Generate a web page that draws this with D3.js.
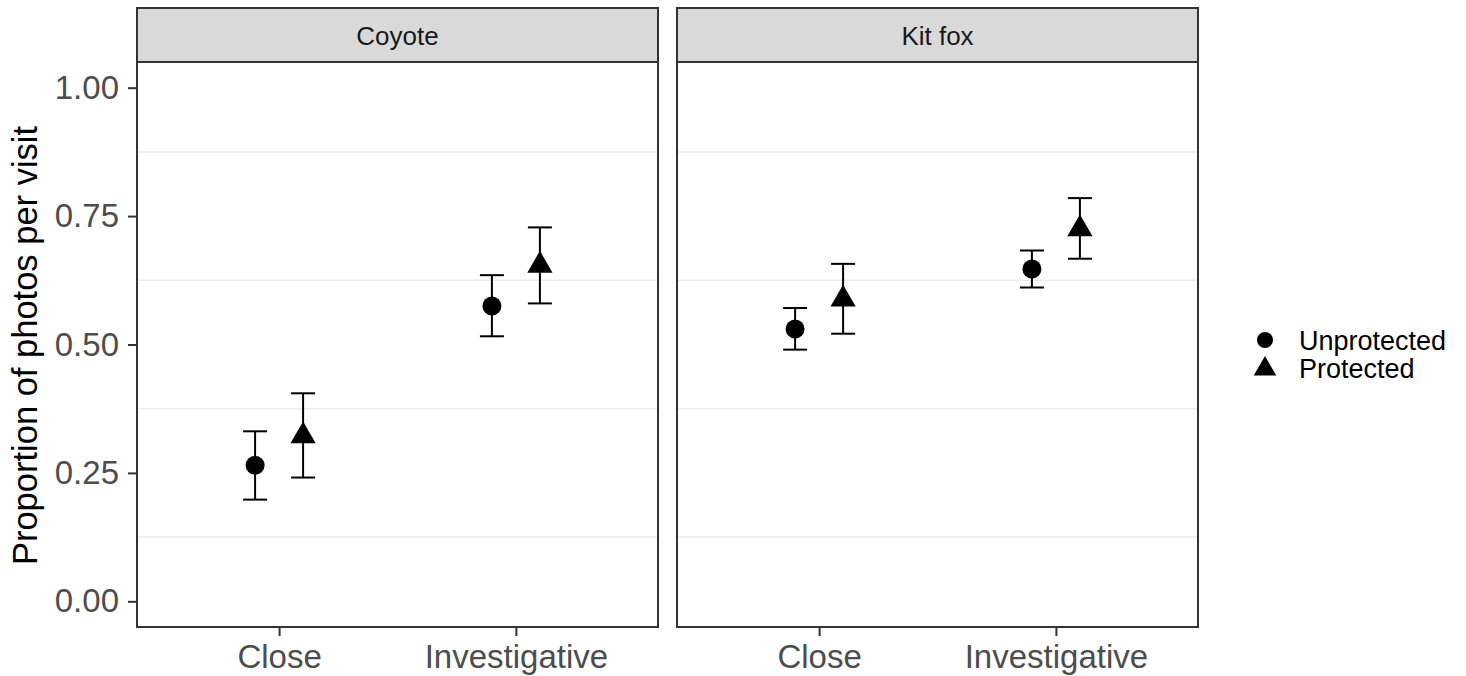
<!DOCTYPE html>
<html>
<head>
<meta charset="utf-8">
<script src="https://cdn.jsdelivr.net/npm/d3@7"></script>
<style>
  html, body { margin: 0; padding: 0; background: #ffffff; }
  svg { display: block; font-family: "Liberation Sans", Arial, sans-serif; }
</style>
</head>
<body>
<svg id="chart" width="1466" height="676"></svg>
<script>
// ---- data ----
const panels = ["Coyote", "Kit fox"];
const categories = ["Close", "Investigative"];
const groups = ["Unprotected", "Protected"];
const yTicks = [0, 0.25, 0.5, 0.75, 1.0];
const yMinor = [0.125, 0.375, 0.625, 0.875];

// estimates per panel, order: [Close-Unprot, Close-Prot, Inv-Unprot, Inv-Prot]
const coyoteMean  = [0.265, 0.322, 0.575, 0.654];
const coyoteLower = [0.198, 0.241, 0.516, 0.580];
const coyoteUpper = [0.331, 0.405, 0.635, 0.728];
const kitfoxMean  = [0.530, 0.588, 0.647, 0.725];
const kitfoxLower = [0.490, 0.521, 0.611, 0.667];
const kitfoxUpper = [0.571, 0.657, 0.683, 0.785];

const rows = [];
[[coyoteMean, coyoteLower, coyoteUpper], [kitfoxMean, kitfoxLower, kitfoxUpper]].forEach((arr, pi) => {
  let k = 0;
  categories.forEach(cat => {
    groups.forEach(g => {
      rows.push({panel: panels[pi], cat, group: g, mean: arr[0][k], lo: arr[1][k], hi: arr[2][k]});
      k++;
    });
  });
});

// ---- layout ----
const svg = d3.select("#chart");
const panelLefts = [137, 677];
const panelW = 521;
const stripTop = 8, stripBottom = 62, panelBottom = 627;
const border = "#333333";

const y = d3.scaleLinear().domain([-0.05, 1.05]).range([panelBottom, stripBottom]);
const x = d3.scalePoint().domain(categories).range([0, panelW]).padding(0.6); // ggplot 0.6 expansion
const dodge = d3.scalePoint().domain(groups).range([-24, 24]);
const capHalf = 12;

const circleSym = d3.symbol(d3.symbolCircle, Math.PI * 9.5 * 9.5);
const triSym = d3.symbol(d3.symbolTriangle, 275);
const shapeOf = g => g === "Unprotected" ? circleSym() : triSym();

panels.forEach((p, pi) => {
  const g = svg.append("g").attr("transform", `translate(${panelLefts[pi]},0)`);
  // panel background
  g.append("rect").attr("x", 0).attr("y", stripBottom).attr("width", panelW)
    .attr("height", panelBottom - stripBottom).attr("fill", "#ffffff");
  // minor gridlines
  g.selectAll(".minor").data(yMinor).enter().append("line")
    .attr("x1", 0).attr("x2", panelW)
    .attr("y1", d => y(d)).attr("y2", d => y(d))
    .attr("stroke", "#ebebeb").attr("stroke-width", 1.5);

  const data = rows.filter(r => r.panel === p);
  const pts = g.selectAll(".pt").data(data).enter().append("g")
    .attr("transform", d => `translate(${x(d.cat) + dodge(d.group)},0)`);
  pts.append("line").attr("x1", 0).attr("x2", 0)
    .attr("y1", d => y(d.lo)).attr("y2", d => y(d.hi))
    .attr("stroke", "#000").attr("stroke-width", 2);
  pts.append("line").attr("x1", -capHalf).attr("x2", capHalf)
    .attr("y1", d => y(d.lo)).attr("y2", d => y(d.lo))
    .attr("stroke", "#000").attr("stroke-width", 2);
  pts.append("line").attr("x1", -capHalf).attr("x2", capHalf)
    .attr("y1", d => y(d.hi)).attr("y2", d => y(d.hi))
    .attr("stroke", "#000").attr("stroke-width", 2);
  pts.append("path").attr("d", d => shapeOf(d.group))
    .attr("transform", d => `translate(0,${y(d.mean)})`)
    .attr("fill", "#000");

  // panel border
  g.append("rect").attr("x", 0).attr("y", stripBottom).attr("width", panelW)
    .attr("height", panelBottom - stripBottom).attr("fill", "none")
    .attr("stroke", border).attr("stroke-width", 2);
  // strip
  g.append("rect").attr("x", 0).attr("y", stripTop).attr("width", panelW)
    .attr("height", stripBottom - stripTop).attr("fill", "#d9d9d9")
    .attr("stroke", border).attr("stroke-width", 2);
  g.append("text").attr("x", panelW / 2).attr("y", (stripTop + stripBottom) / 2 + 1)
    .attr("dy", "0.35em").attr("text-anchor", "middle")
    .attr("font-size", 26).attr("fill", "#1a1a1a").text(p);

  // x axis
  const xAxis = d3.axisBottom(x).tickSize(9).tickPadding(9);
  const xa = g.append("g").attr("transform", `translate(0,${panelBottom})`).call(xAxis);
  xa.select(".domain").remove();
  xa.selectAll(".tick line").attr("stroke", border).attr("stroke-width", 2);
  xa.selectAll(".tick text").attr("font-size", 33).attr("fill", "#4d4d4d")
    .attr("font-family", "Liberation Sans, Arial, sans-serif");
});

// y axis (left panel only)
const yAxis = d3.axisLeft(y).tickValues(yTicks).tickFormat(d3.format(".2f")).tickSize(9).tickPadding(9);
const ya = svg.append("g").attr("transform", `translate(${panelLefts[0]},0)`).call(yAxis);
ya.select(".domain").remove();
ya.selectAll(".tick line").attr("stroke", border).attr("stroke-width", 2);
ya.selectAll(".tick text").attr("font-size", 33).attr("fill", "#4d4d4d")
  .attr("font-family", "Liberation Sans, Arial, sans-serif");

// y title
svg.append("text")
  .attr("transform", `translate(37,${(stripBottom + panelBottom) / 2 + 1}) rotate(-90)`)
  .attr("text-anchor", "middle").attr("font-size", 34.5).attr("fill", "#000")
  .text("Proportion of photos per visit");

// legend
const leg = svg.append("g").attr("transform", "translate(1265,340)");
const legY = d3.scalePoint().domain(groups).range([0, 28]);
const legCircle = d3.symbol(d3.symbolCircle, Math.PI * 8 * 8);
const legTri = d3.symbol(d3.symbolTriangle, 220);
const li = leg.selectAll(".li").data(groups).enter().append("g")
  .attr("transform", d => `translate(0,${legY(d)})`);
li.append("path").attr("d", d => d === "Unprotected" ? legCircle() : legTri())
  .attr("transform", d => d === "Unprotected" ? "" : "translate(0,1)")
  .attr("fill", "#000");
li.append("text").attr("x", 34).attr("y", 1).attr("dy", "0.35em")
  .attr("font-size", 27).attr("fill", "#000").text(d => d);
</script>
</body>
</html>
